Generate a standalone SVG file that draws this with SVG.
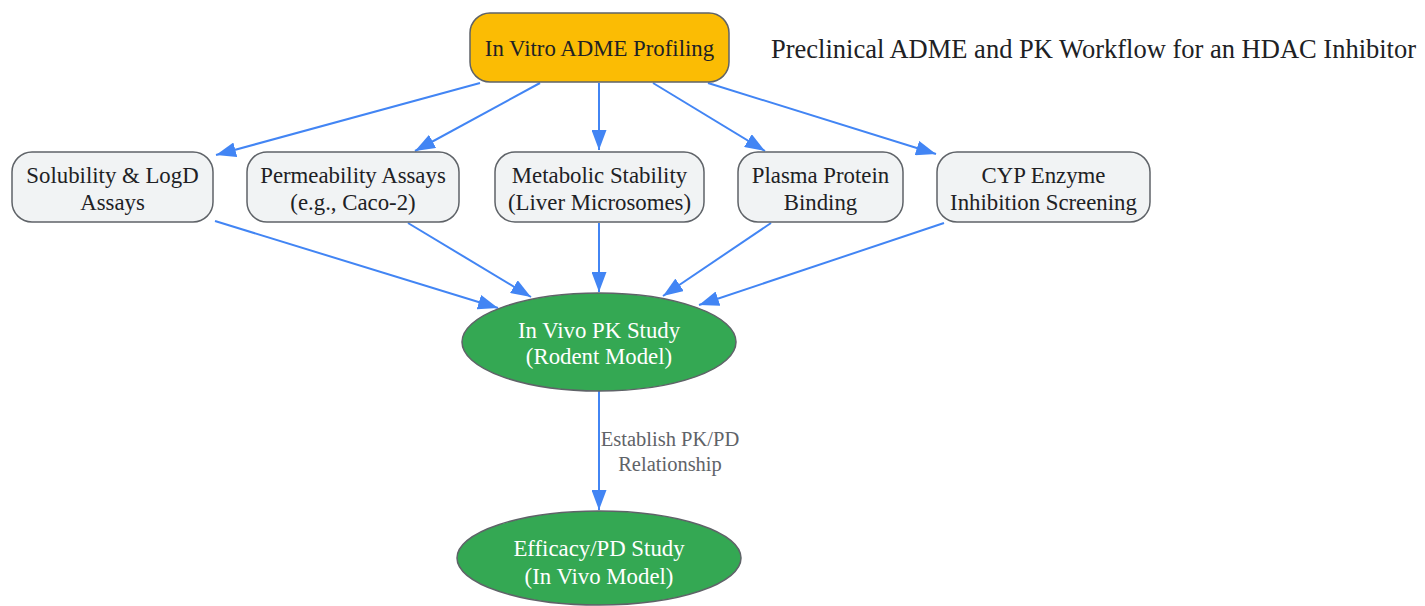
<svg xmlns="http://www.w3.org/2000/svg" width="1425" height="606" viewBox="0 0 1425 606">
<style>
.box{fill:#F1F3F4;stroke:#5f6368;stroke-width:1.5}
.top{fill:#FBBC04;stroke:#5f6368;stroke-width:1.5}
.ell{fill:#34A853;stroke:#5f6368;stroke-width:1.5}
.t{font-family:"Liberation Serif",serif;font-size:22.8px;fill:#202124;text-anchor:middle}
.w{fill:#ffffff}
.e{stroke:#4285F4;stroke-width:2;fill:none;marker-end:url(#ah)}
.lbl{font-family:"Liberation Serif",serif;font-size:20.5px;fill:#5f6368;text-anchor:middle}
.title{font-family:"Liberation Serif",serif;font-size:26.5px;fill:#202124}
</style>
<defs>
<marker id="ah" markerWidth="20" markerHeight="15" refX="20" refY="7.5" orient="auto" markerUnits="userSpaceOnUse" viewBox="0 0 20 15">
<path d="M0,0 L20,7.5 L0,15 Z" fill="#4285F4"/>
</marker>
</defs>
<rect width="1425" height="606" fill="#ffffff"/>
<g id="connectors">
<line class="e" x1="480" y1="83" x2="216" y2="155"/>
<line class="e" x1="540" y1="83" x2="415" y2="151"/>
<line class="e" x1="599" y1="83" x2="599" y2="150"/>
<line class="e" x1="653" y1="83" x2="765" y2="151"/>
<line class="e" x1="708" y1="83" x2="936" y2="154"/>
<line class="e" x1="215" y1="221" x2="498" y2="308"/>
<line class="e" x1="408" y1="223" x2="531" y2="297"/>
<line class="e" x1="599" y1="223" x2="599" y2="292"/>
<line class="e" x1="771" y1="223" x2="663" y2="296"/>
<line class="e" x1="944" y1="223" x2="699" y2="305"/>
<line class="e" x1="599" y1="391" x2="599" y2="510"/>
<text class="lbl" x="670" y="446">Establish PK/PD</text>
<text class="lbl" x="670" y="471">Relationship</text>
</g>
<text class="title" x="771" y="58">Preclinical ADME and PK Workflow for an HDAC Inhibitor</text>
<g id="invitro">
<rect class="top" x="470" y="13" width="259" height="69" rx="20"/>
<text class="t" x="599.5" y="56">In Vitro ADME Profiling</text>
</g>
<g id="solubility">
<rect class="box" x="12" y="152" width="201" height="70" rx="20"/>
<text class="t" x="112.5" y="183">Solubility &amp; LogD</text>
<text class="t" x="112.5" y="210">Assays</text>
</g>
<g id="permeability">
<rect class="box" x="247" y="152" width="212" height="70" rx="20"/>
<text class="t" x="353" y="183">Permeability Assays</text>
<text class="t" x="353" y="210">(e.g., Caco-2)</text>
</g>
<g id="metabolic">
<rect class="box" x="495" y="152" width="209" height="70" rx="20"/>
<text class="t" x="599.5" y="183">Metabolic Stability</text>
<text class="t" x="599.5" y="210">(Liver Microsomes)</text>
</g>
<g id="plasma">
<rect class="box" x="738" y="152" width="165" height="70" rx="20"/>
<text class="t" x="820.5" y="183">Plasma Protein</text>
<text class="t" x="820.5" y="210">Binding</text>
</g>
<g id="cyp">
<rect class="box" x="937" y="152" width="213" height="70" rx="20"/>
<text class="t" x="1043.5" y="183">CYP Enzyme</text>
<text class="t" x="1043.5" y="210">Inhibition Screening</text>
</g>
<g id="pkstudy">
<ellipse class="ell" cx="599" cy="342" rx="137" ry="49"/>
<text class="t w" x="599" y="338">In Vivo PK Study</text>
<text class="t w" x="599" y="364">(Rodent Model)</text>
</g>
<g id="efficacy">
<ellipse class="ell" cx="599" cy="558" rx="142" ry="47"/>
<text class="t w" x="599" y="556">Efficacy/PD Study</text>
<text class="t w" x="599" y="584">(In Vivo Model)</text>
</g>
</svg>
